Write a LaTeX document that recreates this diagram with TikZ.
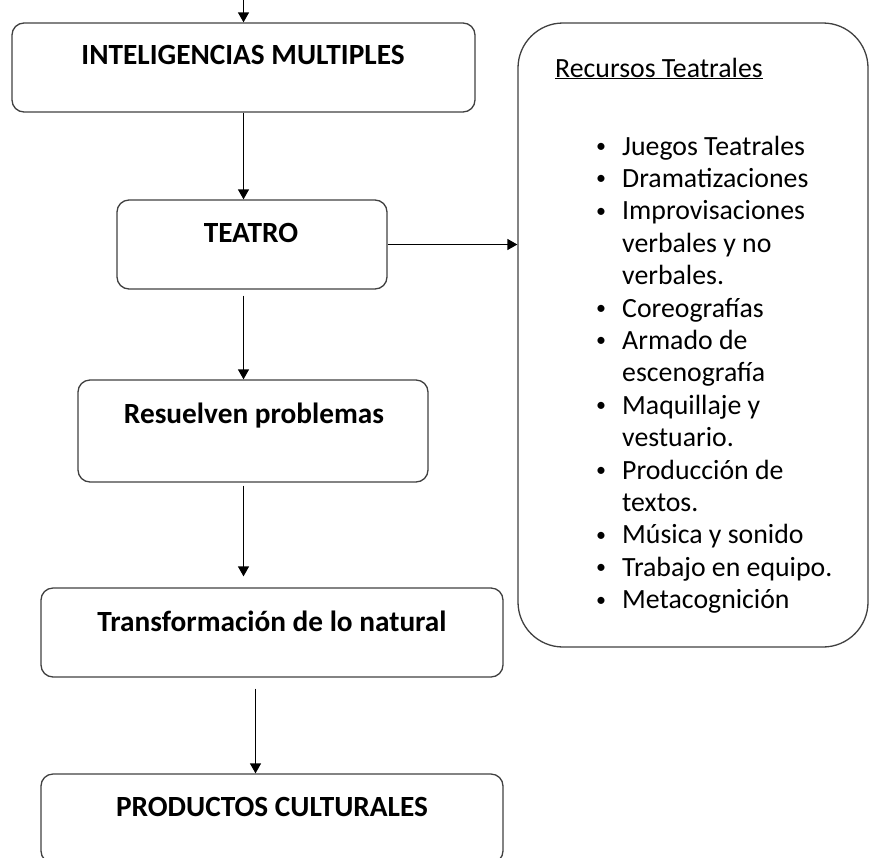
\documentclass[tikz,border=0pt]{standalone}
\usepackage{fontspec}
\setmainfont{Carlito}
\usepackage{tikz}
\usetikzlibrary{arrows.meta}
\usetikzlibrary{calc}

\begin{document}
\begin{tikzpicture}[x=1pt, y=-1pt,
    caja/.style={draw=black!75, line width=1.3pt, rounded corners=12pt, inner sep=0pt},
    titulo/.style={font=\fontsize{29.3}{35}\selectfont\bfseries, anchor=base, inner sep=0pt},
    lista/.style={font=\fontsize{27.8}{33}\selectfont, anchor=base west, inner sep=0pt},
    bala/.style={font=\fontsize{20}{20}\selectfont, anchor=base, inner sep=0pt},
    flecha/.style={-{Triangle[length=10pt, width=11pt]}, line width=1.3pt}]

      \newcommand\paso{32.4}
      \newcommand\primera{155}

      \useasboundingbox (0,0) rectangle (869,857);
      \clip (0,0) rectangle (869,857);

      % cajas de la izquierda
      \node [caja, minimum width=463pt, minimum height=89pt] (intel) at (243.5,67.5) {};
      \node [caja, minimum width=270pt, minimum height=89pt] (teatro) at (252,244.5) {};
      \node [caja, minimum width=350pt, minimum height=102pt] (resuel) at (253,431) {};
      \node [caja, minimum width=462pt, minimum height=89pt] (transf) at (272,632.5) {};
      \node [caja, minimum width=462pt, minimum height=89pt] (prod) at (272,818.5) {};

      \node [titulo] (intelt) at (243,64) {INTELIGENCIAS MULTIPLES};
      \node [titulo] (teatrot) at (251,242) {TEATRO};
      \node [titulo] (resuelt) at (254,423) {Resuelven problemas};
      \node [titulo] (transft) at (272,631) {Transformación de lo natural};
      \node [titulo] (prodt) at (272,816) {PRODUCTOS CULTURALES};

      % caja de recursos
      \node [caja, rounded corners=45pt, minimum width=350pt, minimum height=624pt]
      (recursos) at (693,335) {};
      \node [lista] (recursost) at (555,77) {\underline{Recursos Teatrales}};

      \foreach \b/\t [count=\i from 0] in {1/Juegos Teatrales, 1/Dramatizaciones,
        1/Improvisaciones, 0/verbales y no, 0/verbales., 1/Coreografías,
        1/Armado de, 0/escenografía, 1/Maquillaje y, 0/vestuario.,
        1/Producción de, 0/textos., 1/Música y sonido, 1/Trabajo en equipo.,
        1/Metacognición}
      {
        \node [lista] (item\i) at (622, {\primera+\paso*\i}) {\t};
        \ifnum\b=1
          \node [bala] (bala\i) at (601, {\primera-2.5+\paso*\i}) {\textbullet};
        \fi
      }

      % flechas
      \coordinate (entrada) at (243.5,0);
      \draw [flecha] (entrada) -- (intel.north);
      \draw [flecha] (intel.south) -- (intel.south |- teatro.north);
      \draw [flecha] ($(intel.south |- teatro.south)+(0,6)$) -- (intel.south |- resuel.north);
      \draw [flecha] ($(intel.south |- resuel.south)+(0,3)$)
      -- ($(intel.south |- transf.north)+(0,-11)$);
      \draw [flecha] ($(transf.south)+(-16.5,11)$) -- ($(transf.south |- prod.north)+(-16.5,0)$);
      \draw [flecha] (teatro.east) -- (teatro.east -| recursos.west);

    \end{tikzpicture}
\end{document}
